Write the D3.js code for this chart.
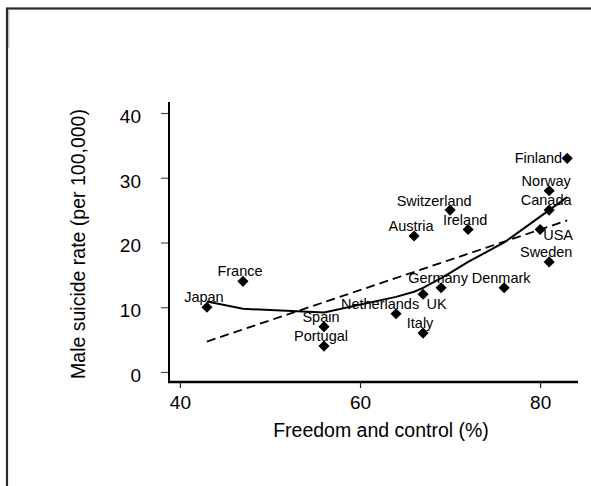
<!DOCTYPE html>
<html>
<head>
<meta charset="utf-8">
<script src="https://cdn.jsdelivr.net/npm/d3@7/dist/d3.min.js"></script>
<style>
  html, body { margin: 0; padding: 0; background: #fff; }
  svg { display: block; }
  text { font-family: "Liberation Sans", Arial, sans-serif; fill: #000; }
</style>
</head>
<body>
<svg id="chart" width="591" height="486"></svg>
<script>
// ---- data ----
const countries = ["Japan","France","Spain","Portugal","Netherlands","Austria","UK","Italy","Germany","Switzerland","Ireland","Denmark","USA","Norway","Canada","Sweden","Finland"];
const freedom   = [43, 47, 56, 56, 64, 66, 67, 67, 69, 70, 72, 76, 80, 81, 81, 81, 83];
const suicide   = [10, 14,  7,  4,  9, 21, 12,  6, 13, 25, 22, 13, 22, 28, 25, 17, 33];
// label position as clock direction (12 = above, 9 = left, 11 = above-left, 4/5 = below-right)
const labelClock = [12, 12, 12, 12, 11, 12, 5, 12, 12, 11, 12, 12, 4, 12, 12, 12, 9];
// lowess smooth
const lowessX = [43, 47, 56, 64, 66, 67, 69, 70, 72, 76, 80, 81, 83];
const lowessY = [10.9, 9.75, 9.2, 11.6, 12.4, 13.0, 14.5, 15.3, 17.0, 20.0, 24.0, 25.0, 27.0];
// linear fit
const fitX = [43, 83];
const fitY = [4.7, 23.4];
const xTicks = [40, 60, 80];
const yTicks = [0, 10, 20, 30, 40];
const xTitle = "Freedom and control (%)";
const yTitle = "Male suicide rate (per 100,000)";

// ---- drawing ----
const svg = d3.select("#chart");

// outer frame
svg.append("rect").attr("x", 7).attr("y", 8.5).attr("width", 700).attr("height", 600)
  .attr("fill", "none").attr("stroke", "#2a2a2a").attr("stroke-width", 2.2);
svg.append("line").attr("x1", 8.8).attr("x2", 8.8).attr("y1", 10).attr("y2", 48)
  .attr("stroke", "#aaa").attr("stroke-width", 1);

const x = d3.scaleLinear().domain([38.9, 84.2]).range([170, 578]);
const y = d3.scaleLinear().domain([-1.55, 41.7]).range([382, 102]);

// x axis
const gx = svg.append("g").attr("transform", "translate(0,382)")
  .call(d3.axisBottom(x).tickValues(xTicks).tickSize(6).tickSizeOuter(0).tickPadding(7));
gx.select(".domain").remove();
gx.selectAll(".tick line").attr("stroke", "#222").attr("stroke-width", 1.2);
gx.selectAll(".tick text").attr("font-size", 19).attr("dy", "0.72em")
  .style("font-family", '"Liberation Sans", Arial, sans-serif');
svg.append("line").attr("x1", 168).attr("x2", x.range()[1]).attr("y1", 382).attr("y2", 382)
  .attr("stroke", "#000").attr("stroke-width", 2.6);

// y axis
const gy = svg.append("g").attr("transform", "translate(169,0)")
  .call(d3.axisLeft(y).tickValues(yTicks).tickSize(8).tickSizeOuter(0).tickPadding(20));
gy.select(".domain").remove();
gy.selectAll(".tick line").attr("stroke", "#444").attr("stroke-width", 1.1);
gy.selectAll(".tick text").attr("font-size", 19).attr("dy", "0.5em")
  .style("font-family", '"Liberation Sans", Arial, sans-serif');
svg.append("line").attr("x1", 169).attr("x2", 169).attr("y1", y.range()[1]).attr("y2", 383)
  .attr("stroke", "#000").attr("stroke-width", 2);

// axis titles
svg.append("text").attr("x", (270 + 492) / 2).attr("y", 437).attr("text-anchor", "middle")
  .attr("font-size", 19.5).text(xTitle);
svg.append("text").attr("transform", "translate(85,244) rotate(-90)").attr("text-anchor", "middle")
  .attr("font-size", 19.5).text(yTitle);

// fitted linear line
const fitPts = fitX.map((v, i) => [x(v), y(fitY[i])]);
svg.append("path").attr("d", d3.line()(fitPts)).attr("fill", "none")
  .attr("stroke", "#000").attr("stroke-width", 1.8).attr("stroke-dasharray", "9,5");

// lowess line
const lowPts = lowessX.map((v, i) => [x(v), y(lowessY[i])]);
svg.append("path").attr("d", d3.line()(lowPts)).attr("fill", "none")
  .attr("stroke", "#000").attr("stroke-width", 2);

// points
const pts = countries.map((c, i) => ({ name: c, fx: freedom[i], sy: suicide[i], clock: labelClock[i] }));
const sym = d3.symbol().type(d3.symbolSquare).size(62);
svg.append("g").selectAll("path").data(pts).join("path")
  .attr("d", sym)
  .attr("transform", d => `translate(${x(d.fx)},${y(d.sy)}) rotate(45)`)
  .attr("fill", "#000");

// labels
const place = {
  12: { dx: -3,  dy: -5,   anchor: "middle" },
  11: { dx: -16, dy: -4.5, anchor: "middle" },
  9:  { dx: -5,  dy: 4.5,  anchor: "end" },
  4:  { dx: 3,   dy: 10,   anchor: "start" },
  5:  { dx: 3.5, dy: 15,   anchor: "start" }
};
svg.append("g").selectAll("text").data(pts).join("text")
  .attr("x", d => x(d.fx) + place[d.clock].dx)
  .attr("y", d => y(d.sy) + place[d.clock].dy)
  .attr("text-anchor", d => place[d.clock].anchor)
  .attr("font-size", 14.5)
  .text(d => d.name);
</script>
</body>
</html>
